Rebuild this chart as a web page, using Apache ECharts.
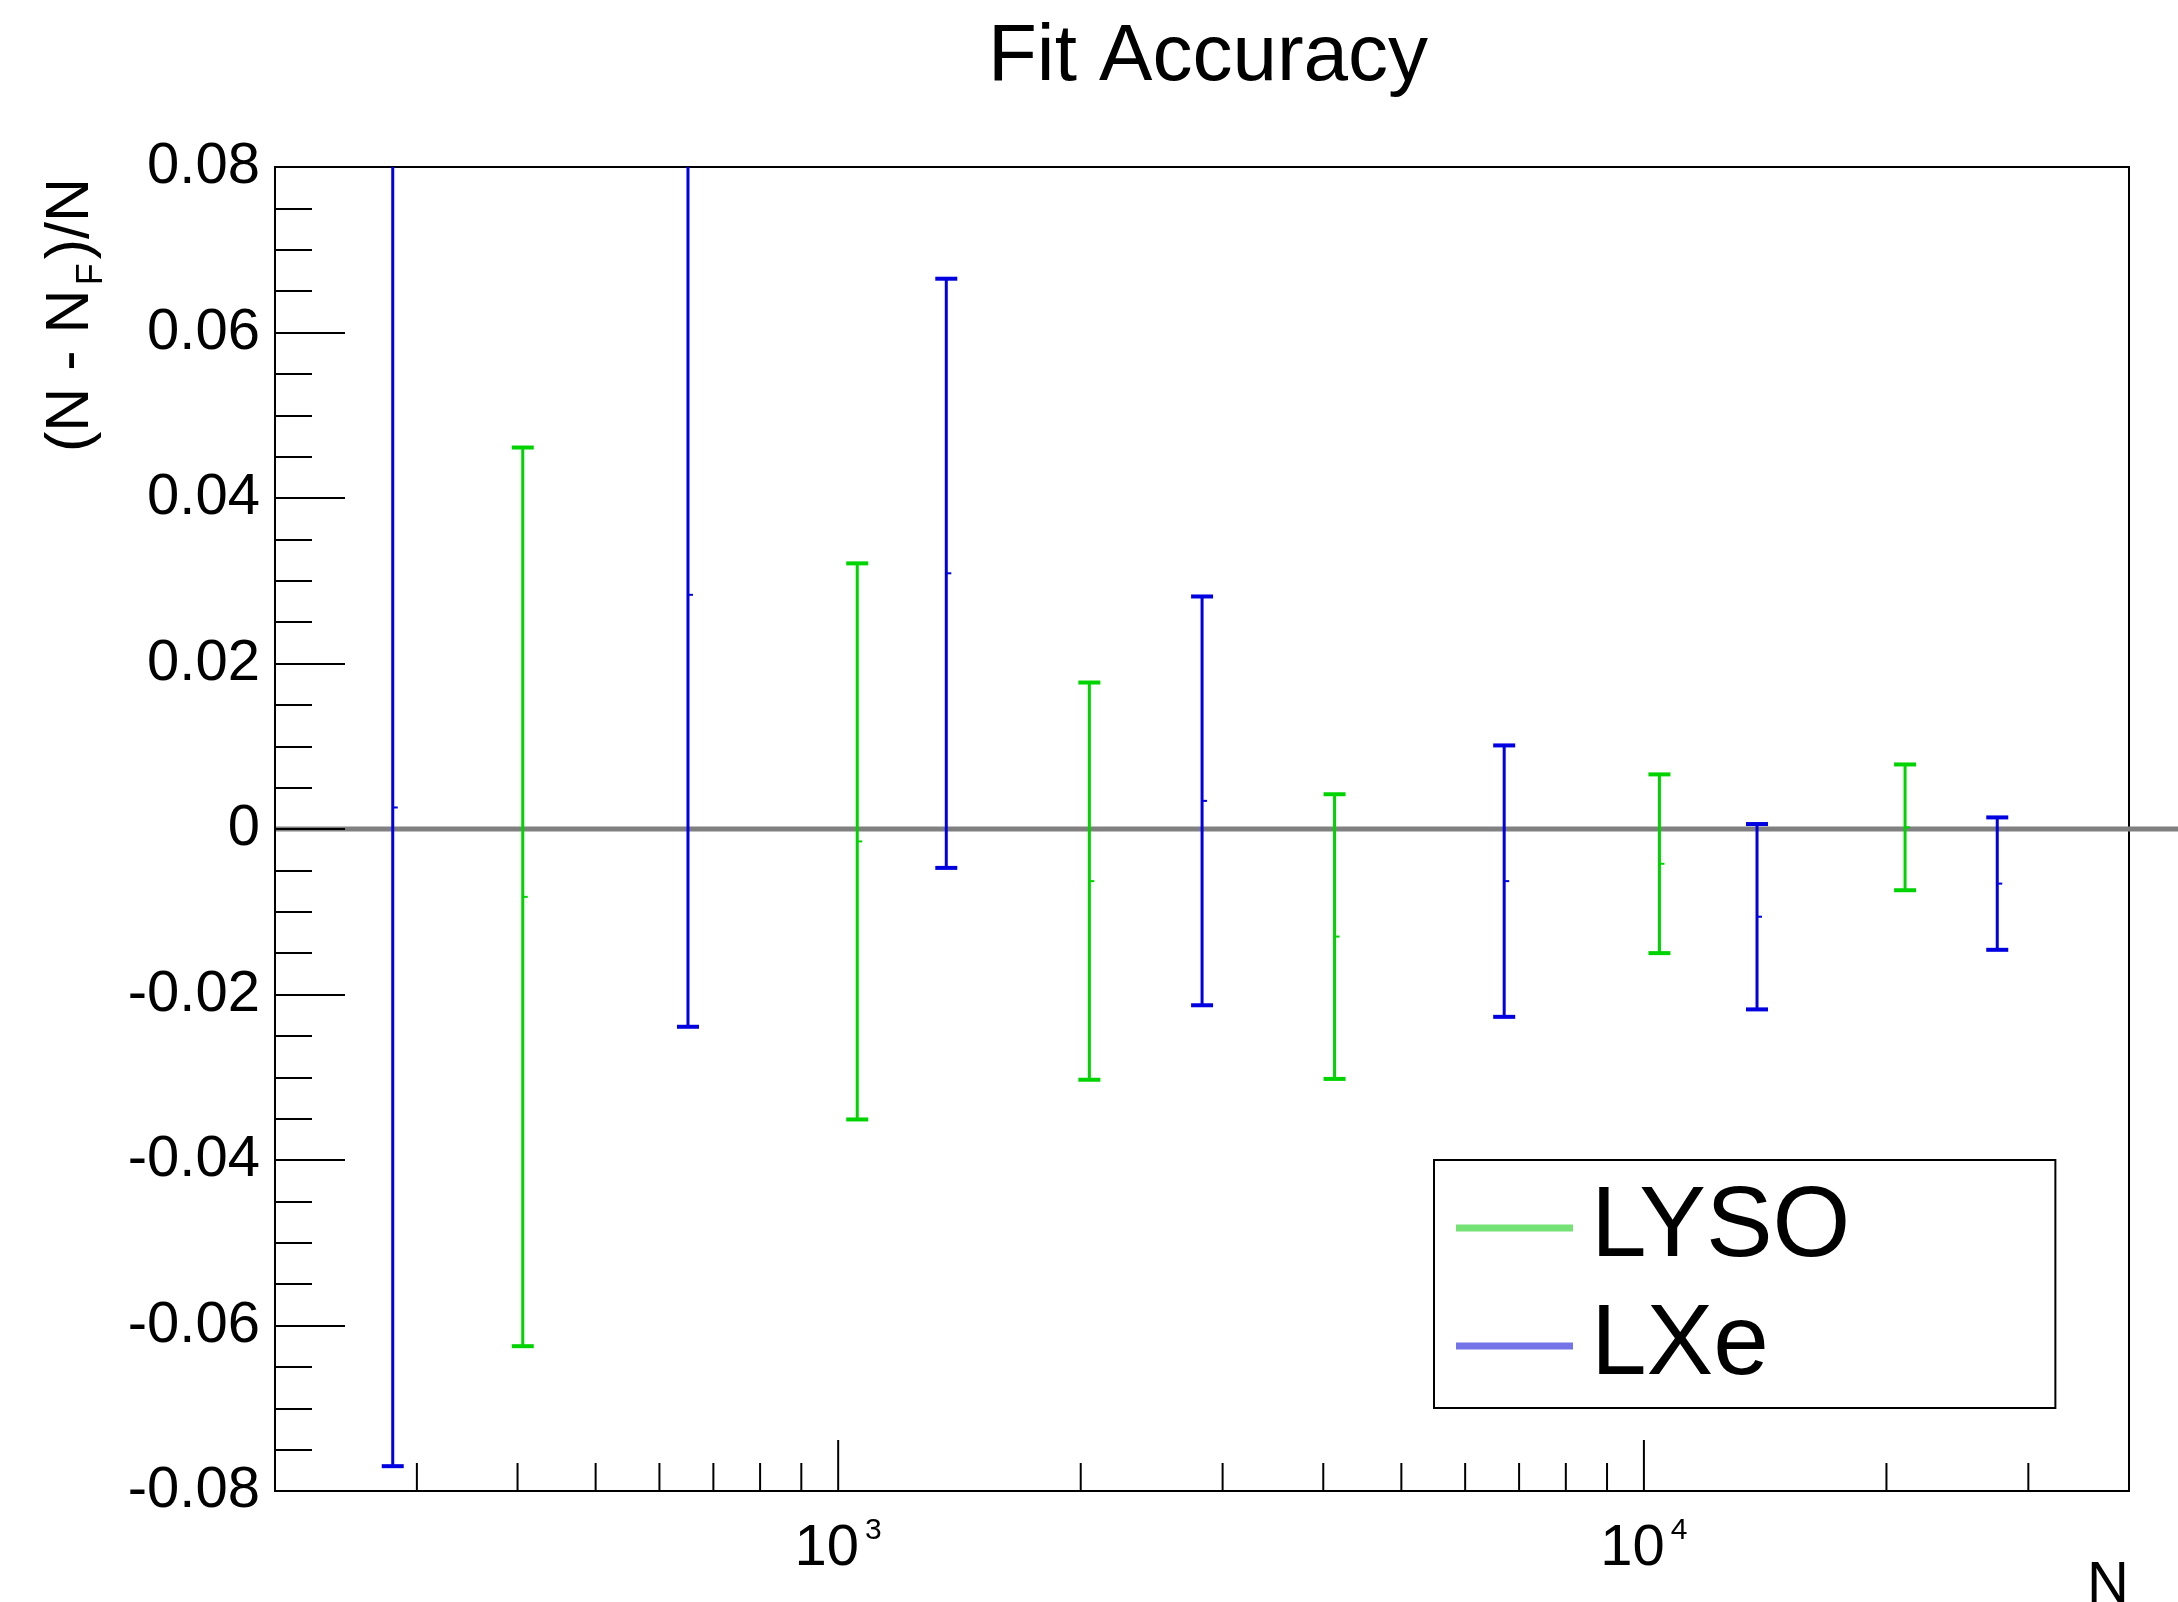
<!DOCTYPE html>
<html>
<head>
<meta charset="utf-8">
<script src="https://cdn.jsdelivr.net/npm/echarts@6/dist/echarts.min.js"></script>
<style>
  html, body { margin: 0; padding: 0; background: #fff; }
  #chart { width: 2178px; height: 1602px; }
</style>
</head>
<body>
<div id="chart"></div>
<script>
// LYSO points: N, (N - N_F)/N and its error
const lysoN = [406, 1056, 2050, 4131, 10454, 21093];
const lysoVal = [-0.0082, -0.0015, -0.0063, -0.0130, -0.0042, 0.0002];
const lysoErr = [0.0543, 0.0336, 0.0240, 0.0172, 0.0108, 0.0076];

// LXe points
const lxeN = [280, 651, 1362, 2829, 6708, 13816, 27450];
const lxeVal = [0.0026, 0.0283, 0.0309, 0.0034, -0.0063, -0.0106, -0.0066];
const lxeErr = [0.0796, 0.0522, 0.0356, 0.0247, 0.0164, 0.0112, 0.0080];

// axis ranges and ticks
const xMin = 200, xMax = 40000;
const yMin = -0.08, yMax = 0.08;
const xMajorTicks = [1000, 10000];
const xMajorExp = ['3', '4'];
const xMinorTicks = [300, 400, 500, 600, 700, 800, 900, 2000, 3000, 4000, 5000, 6000, 7000, 8000, 9000, 20000, 30000];

const FONT = 'Liberation Sans';
const chart = echarts.init(document.getElementById('chart'));

const errorBars = (color) => (params, api) => {
  const x = api.value(0), v = api.value(1), e = api.value(2);
  const top = api.coord([x, v + e]);
  const bot = api.coord([x, v - e]);
  const mid = api.coord([x, v]);
  const capW = 11;
  return {
    type: 'group',
    children: [
      { type: 'line', shape: { x1: top[0], y1: top[1], x2: bot[0], y2: bot[1] }, style: { stroke: color, lineWidth: 3 } },
      { type: 'line', shape: { x1: top[0] - capW, y1: top[1], x2: top[0] + capW, y2: top[1] }, style: { stroke: color, lineWidth: 4 } },
      { type: 'line', shape: { x1: bot[0] - capW, y1: bot[1], x2: bot[0] + capW, y2: bot[1] }, style: { stroke: color, lineWidth: 4 } },
      { type: 'line', shape: { x1: mid[0], y1: mid[1], x2: mid[0] + 5, y2: mid[1] }, style: { stroke: color, lineWidth: 2 } }
    ]
  };
};

const option = {
  backgroundColor: '#fff',
  animation: false,
  title: {
    text: 'Fit Accuracy',
    left: 983,
    top: 13,
    textStyle: { fontFamily: FONT, fontSize: 80, fontWeight: 'normal', color: '#000' }
  },
  legend: {
    orient: 'vertical',
    left: 1434,
    top: 1160,
    padding: [9, 205, 3, 22],
    itemGap: 0,
    itemWidth: 117,
    itemHeight: 7,
    borderColor: '#000',
    borderWidth: 2,
    icon: 'rect',
    data: [
      { name: 'LYSO', itemStyle: { color: '#74e274' } },
      { name: 'LXe', itemStyle: { color: '#7474e8' } }
    ],
    textStyle: { fontFamily: FONT, fontSize: 100, lineHeight: 98, color: '#000', padding: [0, 0, 20, 13] }
  },
  grid: {
    left: 275, right: 49, top: 167, bottom: 111,
    outerBoundsMode: 'none',
    containLabel: false,
    show: true, borderColor: '#000', borderWidth: 2, backgroundColor: 'transparent'
  },
  xAxis: {
    type: 'log',
    logBase: 10,
    min: xMin,
    max: xMax,
    name: 'N',
    nameLocation: 'end',
    nameGap: 0,
    nameTextStyle: { fontFamily: FONT, fontSize: 58, color: '#000', align: 'right', verticalAlign: 'top', padding: [66, 0, 0, 0] },
    axisLine: { show: true, onZero: false, lineStyle: { color: '#000', width: 2 } },
    axisTick: { show: false },
    axisLabel: { show: false },
    splitLine: { show: false }
  },
  yAxis: {
    type: 'value',
    min: yMin,
    max: yMax,
    interval: 0.02,
    z: 3,
    name: '{n|(N - N}{sub|F}{n|)/N}',
    nameLocation: 'middle',
    nameGap: 165,
    nameRotate: 90,
    nameTextStyle: {
      color: '#000',
      padding: [0, 0, 0, 1028],
      rich: {
        n: { fontFamily: FONT, fontSize: 61, color: '#000' },
        sub: { fontFamily: FONT, fontSize: 36, color: '#000', padding: [42, 4, 0, 4] }
      }
    },
    axisLine: { show: true, lineStyle: { color: '#000', width: 2 } },
    axisTick: { show: true, inside: true, length: 70, lineStyle: { color: '#000', width: 2 } },
    minorTick: { show: true, splitNumber: 4, length: 37, lineStyle: { color: '#000', width: 2 } },
    axisLabel: { fontFamily: FONT, fontSize: 58, color: '#000', margin: 15 },
    splitLine: { show: false }
  },
  series: [
    {
      name: 'zero',
      type: 'custom',
      silent: true,
      clip: false,
      z: 1,
      data: [[xMin, 0]],
      encode: { x: 0, y: 1 },
      renderItem: (params, api) => {
        const p = api.coord([api.value(0), api.value(1)]);
        return { type: 'line', shape: { x1: p[0], y1: p[1], x2: api.getWidth(), y2: p[1] }, style: { stroke: '#808080', lineWidth: 5 } };
      }
    },
    {
      name: 'xMinor',
      type: 'custom',
      silent: true,
      clip: false,
      data: xMinorTicks.map(v => [v, yMin]),
      encode: { x: 0, y: 1 },
      renderItem: (params, api) => {
        const p = api.coord([api.value(0), api.value(1)]);
        return { type: 'line', shape: { x1: p[0], y1: p[1], x2: p[0], y2: p[1] - 28 }, style: { stroke: '#000', lineWidth: 2 } };
      }
    },
    {
      name: 'xMajor',
      type: 'custom',
      silent: true,
      clip: false,
      data: xMajorTicks.map((v, i) => [v, yMin, i]),
      encode: { x: 0, y: 1 },
      renderItem: (params, api) => {
        const p = api.coord([api.value(0), api.value(1)]);
        const exp = xMajorExp[api.value(2)];
        return {
          type: 'group',
          children: [
            { type: 'line', shape: { x1: p[0], y1: p[1], x2: p[0], y2: p[1] - 51 }, style: { stroke: '#000', lineWidth: 2 } },
            {
              type: 'text',
              x: p[0], y: p[1] + 58,
              style: {
                text: '{b|10}{s|' + exp + '}',
                align: 'center', verticalAlign: 'middle',
                rich: {
                  b: { fontFamily: FONT, fontSize: 58, fill: '#000' },
                  s: { fontFamily: FONT, fontSize: 30, fill: '#000', padding: [0, 0, 36, 6] }
                }
              }
            }
          ]
        };
      }
    },
    {
      name: 'LYSO',
      type: 'custom',
      clip: true,
      z: 4,
      itemStyle: { color: '#00d400' },
      data: lysoN.map((n, i) => [n, lysoVal[i], lysoErr[i]]),
      encode: { x: 0, y: 1 },
      renderItem: errorBars('#00d400')
    },
    {
      name: 'LXe',
      type: 'custom',
      clip: true,
      z: 4,
      itemStyle: { color: '#0000e0' },
      data: lxeN.map((n, i) => [n, lxeVal[i], lxeErr[i]]),
      encode: { x: 0, y: 1 },
      renderItem: errorBars('#0000e0')
    }
  ]
};

chart.setOption(option);
window.addEventListener('resize', () => chart.resize());
</script>
</body>
</html>
